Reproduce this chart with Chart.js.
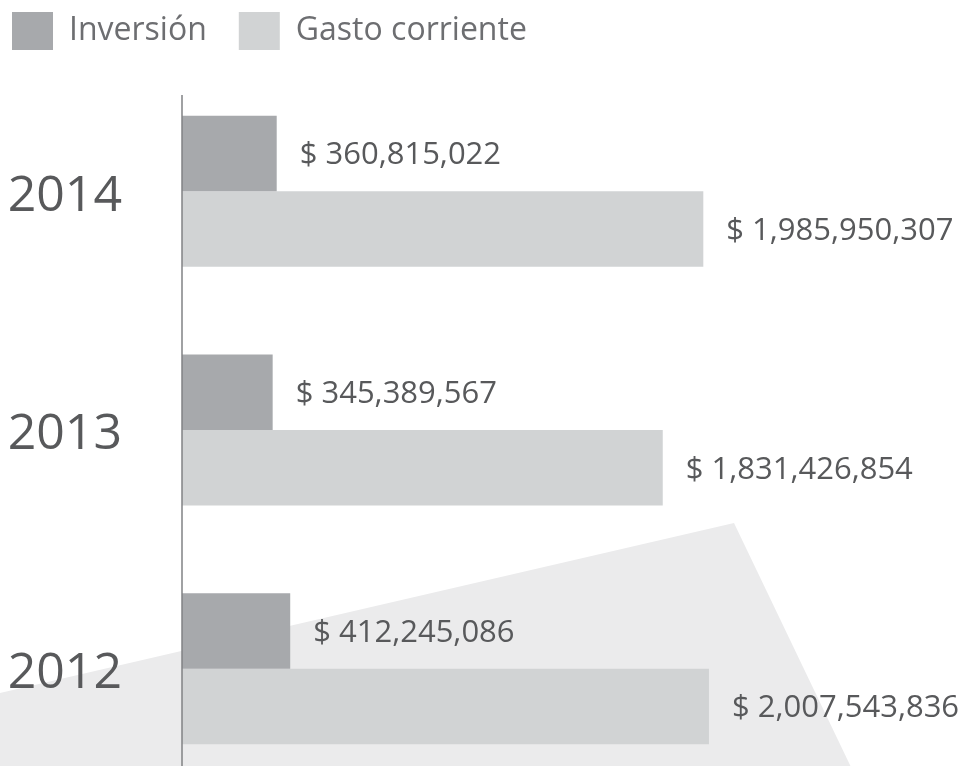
<!DOCTYPE html>
<html>
<head>
<meta charset="utf-8">
<script src="https://cdn.jsdelivr.net/npm/chart.js@4.4.1/dist/chart.umd.min.js"></script>
<style>
  html, body { margin: 0; padding: 0; background: #fff; overflow: hidden; }
  canvas { display: block; }
</style>
</head>
<body>
<canvas id="grafico" width="980" height="788"></canvas>
<script>
// Datos del gráfico
const anios = ['2014', '2013', '2012'];
const series = ['Inversión', 'Gasto corriente'];
const inversion = [360815022, 345389567, 412245086];
const gastoCorriente = [1985950307, 1831426854, 2007543836];

const fuente = "'Open Sans', 'Noto Sans', sans-serif";

// Figura gris del fondo (solo decoración)
const fondo = [[0, 693], [734, 523], [861, 788], [0, 788]];

const pluginFondo = {
    id: 'fondo',
    beforeDraw(chart) {
        const ctx = chart.ctx;
        ctx.save();
        ctx.fillStyle = '#ebebec';
        ctx.beginPath();
        fondo.forEach((p, i) => i ? ctx.lineTo(p[0], p[1]) : ctx.moveTo(p[0], p[1]));
        ctx.closePath();
        ctx.fill();
        ctx.restore();
    }
};

// Etiquetas de valores y eje vertical
const pluginValores = {
    id: 'valores',
    afterDatasetsDraw(chart) {
        const ctx = chart.ctx;
        ctx.save();
        ctx.font = '31px ' + fuente;
        ctx.fillStyle = '#58595b';
        ctx.textBaseline = 'middle';
        chart.data.datasets.forEach((ds, i) => {
            chart.getDatasetMeta(i).data.forEach((bar, j) => {
                ctx.fillText('$ ' + ds.data[j].toLocaleString('en-US'), bar.x + 23, bar.y + 2);
            });
        });
        const area = chart.chartArea;
        ctx.strokeStyle = '#808285';
        ctx.lineWidth = 1.5;
        ctx.beginPath();
        ctx.moveTo(area.left, area.top + 23);
        ctx.lineTo(area.left, area.bottom);
        ctx.stroke();
        ctx.restore();
    }
};

// Más espacio debajo de la leyenda
const pluginLeyenda = {
    id: 'espacioLeyenda',
    afterInit(chart) {
        const fit = chart.legend.fit;
        chart.legend.fit = function() {
            fit.call(this);
            this.height += 12;
        };
    }
};

new Chart(document.getElementById('grafico'), {
    type: 'bar',
    data: {
        labels: anios,
        datasets: [
            { label: series[0], data: inversion, backgroundColor: '#a7a9ac' },
            { label: series[1], data: gastoCorriente, backgroundColor: '#d1d3d4' }
        ]
    },
    options: {
        indexAxis: 'y',
        responsive: false,
        animation: false,
        categoryPercentage: 0.633,
        barPercentage: 1,
        layout: { padding: { left: -20, top: -20, right: 0, bottom: 0 } },
        scales: {
            x: { display: false, min: 0, max: 3.04e9 },
            y: {
                grid: { display: false, drawTicks: false },
                border: { display: false },
                ticks: { color: '#58595b', padding: 60, labelOffset: 5, font: { family: fuente, size: 50 } },
                afterFit(scale) {
                    scale.width = 202;
                    scale.paddingTop = 0;
                    scale.paddingBottom = 0;
                }
            }
        },
        plugins: {
            legend: {
                position: 'top',
                align: 'start',
                labels: {
                    boxWidth: 41,
                    boxHeight: 38,
                    padding: 32,
                    color: '#6d6e71',
                    font: { family: fuente, size: 32 }
                }
            },
            tooltip: { enabled: false }
        }
    },
    plugins: [pluginFondo, pluginValores, pluginLeyenda]
});
</script>
</body>
</html>
